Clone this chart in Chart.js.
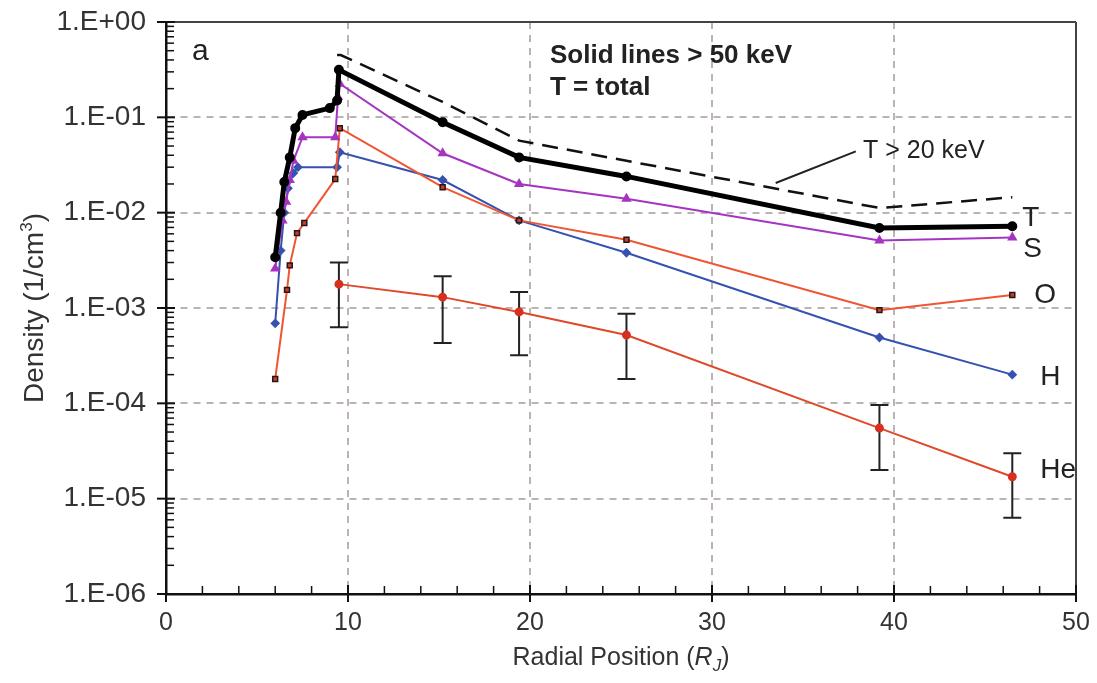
<!DOCTYPE html>
<html>
<head>
<meta charset="utf-8">
<script src="https://cdn.jsdelivr.net/npm/chart.js@4.4.1/dist/chart.umd.min.js"></script>
<style>
  body { margin: 0; background: #fff; }
  #wrap { width: 1097px; height: 683px; }
</style>
</head>
<body>
<div id="wrap"><canvas id="c" width="1097" height="683"></canvas></div>
<script>
// values (density in 1/cm3 vs radial position in RJ)
const xTotal = [6.0, 6.3, 6.5, 6.8, 7.1, 7.5, 9.0, 9.4, 9.5, 15.2, 19.4, 25.3, 39.2, 46.5];
const yTotal = [3.4e-3, 1.0e-2, 2.1e-2, 3.8e-2, 7.7e-2, 0.106, 0.125, 0.15, 0.315, 0.089, 0.038, 0.024, 6.9e-3, 7.2e-3];

const xTotal20 = [9.4, 9.6, 15.2, 19.4, 25.3, 39.2, 46.5];
const yTotal20 = [0.45, 0.45, 0.145, 0.057, 0.035, 0.0112, 0.0145];

const xS = [6.0, 6.4, 6.6, 6.8, 7.0, 7.5, 9.3, 9.45, 9.55, 15.2, 19.4, 25.3, 39.2, 46.5];
const yS = [2.6e-3, 8.3e-3, 1.3e-2, 2.2e-2, 3.5e-2, 0.062, 0.062, 0.163, 0.225, 0.042, 0.020, 0.014, 5.1e-3, 5.5e-3];

const xH = [6.0, 6.3, 6.5, 6.7, 7.0, 7.25, 9.4, 9.55, 15.2, 19.4, 25.3, 39.2, 46.5];
const yH = [6.9e-4, 4e-3, 1e-2, 1.8e-2, 2.6e-2, 0.030, 0.030, 0.043, 0.022, 8.3e-3, 3.8e-3, 4.9e-4, 2.0e-4];

const xO = [6.0, 6.65, 6.8, 7.2, 7.6, 9.3, 9.55, 15.2, 19.4, 25.3, 39.2, 46.5];
const yO = [1.8e-4, 1.55e-3, 2.8e-3, 6.1e-3, 7.8e-3, 0.0225, 0.077, 0.0185, 8.3e-3, 5.2e-3, 9.5e-4, 1.37e-3];

const xHe = [9.5, 15.2, 19.4, 25.3, 39.2, 46.5];
const yHe = [1.78e-3, 1.3e-3, 9.1e-4, 5.2e-4, 5.5e-5, 1.7e-5];
const yHeHigh = [3.0e-3, 2.15e-3, 1.47e-3, 8.7e-4, 9.6e-5, 3.0e-5];
const yHeLow = [6.3e-4, 4.3e-4, 3.2e-4, 1.8e-4, 2.0e-5, 6.3e-6];

const xTickVals = [0, 10, 20, 30, 40, 50];
const yTickVals = [1, 1e-1, 1e-2, 1e-3, 1e-4, 1e-5, 1e-6];
const yTickLabels = ["1.E+00", "1.E-01", "1.E-02", "1.E-03", "1.E-04", "1.E-05", "1.E-06"];

const pts = (xs, ys) => xs.map((x, i) => ({ x: x, y: ys[i] }));

const FONT = "'Liberation Sans', Arial, sans-serif";
const TEXT = "#333";

const overlay = {
  id: "overlay",
  beforeDatasetsDraw(chart) {
    // He error bars
    const ctx = chart.ctx, xs = chart.scales.x, ys = chart.scales.y;
    ctx.save();
    ctx.strokeStyle = "#222";
    ctx.lineWidth = 2;
    xHe.forEach((x, i) => {
      const px = xs.getPixelForValue(x);
      const top = ys.getPixelForValue(yHeHigh[i]);
      const bot = ys.getPixelForValue(yHeLow[i]);
      ctx.beginPath();
      ctx.moveTo(px, top); ctx.lineTo(px, bot);
      ctx.moveTo(px - 9, top); ctx.lineTo(px + 9, top);
      ctx.moveTo(px - 9, bot); ctx.lineTo(px + 9, bot);
      ctx.stroke();
    });
    ctx.restore();
  },
  afterDraw(chart) {
    const ctx = chart.ctx, xs = chart.scales.x, ys = chart.scales.y, a = chart.chartArea;
    const line = (x1, y1, x2, y2) => { ctx.beginPath(); ctx.moveTo(x1, y1); ctx.lineTo(x2, y2); ctx.stroke(); };
    ctx.save();

    // frame top + right
    ctx.strokeStyle = "#444";
    ctx.lineWidth = 2;
    line(a.left, a.top, a.right, a.top);
    line(a.right, a.top, a.right, a.bottom);

    // y ticks (minor inside, major across)
    ctx.strokeStyle = "#111";
    ctx.lineWidth = 1.5;
    for (let e = -6; e < 0; e++) {
      for (let k = 2; k <= 9; k++) {
        const py = ys.getPixelForValue(k * Math.pow(10, e));
        line(a.left, py, a.left + 8, py);
      }
    }
    ctx.lineWidth = 2;
    yTickVals.forEach(v => {
      const py = ys.getPixelForValue(v);
      line(a.left - 9, py, a.left + 9, py);
    });

    // x ticks
    ctx.lineWidth = 1.5;
    for (let v = 2; v < 50; v += 2) {
      if (v % 10 === 0) continue;
      const px = xs.getPixelForValue(v);
      line(px, a.bottom, px, a.bottom - 8);
    }
    ctx.lineWidth = 2;
    xTickVals.forEach(v => {
      const px = xs.getPixelForValue(v);
      line(px, a.bottom - 9, px, a.bottom + 8);
    });

    // axis titles
    ctx.fillStyle = TEXT;
    ctx.textBaseline = "alphabetic";
    ctx.save();
    ctx.translate(43, (a.top + a.bottom) / 2);
    ctx.rotate(-Math.PI / 2);
    ctx.font = "28px " + FONT;
    const t1 = "Density (1/cm", t2 = "3", t3 = ")";
    const w1 = ctx.measureText(t1).width, w3 = ctx.measureText(t3).width;
    ctx.font = "17px " + FONT;
    const w2 = ctx.measureText(t2).width;
    let sx = -(w1 + w2 + w3) / 2;
    ctx.font = "28px " + FONT;
    ctx.textAlign = "left";
    ctx.fillText(t1, sx, 0);
    ctx.font = "17px " + FONT;
    ctx.fillText(t2, sx + w1, -11);
    ctx.font = "28px " + FONT;
    ctx.fillText(t3, sx + w1 + w2, 0);
    ctx.restore();

    const parts = [
      ["Radial Position (", "25px " + FONT, 0],
      ["R", "italic 25px " + FONT, 0],
      ["J", "italic 17px " + FONT, 6],
      [")", "25px " + FONT, 0]
    ];
    let tw = 0;
    parts.forEach(p => { ctx.font = p[1]; tw += ctx.measureText(p[0]).width; });
    let cx = (a.left + a.right) / 2 - tw / 2;
    ctx.textAlign = "left";
    parts.forEach(p => {
      ctx.font = p[1];
      ctx.fillText(p[0], cx, 665 + p[2]);
      cx += ctx.measureText(p[0]).width;
    });

    // panel letter and notes
    ctx.fillStyle = "#222";
    ctx.font = "30px " + FONT;
    ctx.fillText("a", a.left + 26, a.top + 38);
    ctx.font = "bold 26px " + FONT;
    ctx.fillText("Solid lines > 50 keV", 550, 63);
    ctx.fillText("T = total", 550, 95);

    // T > 20 keV callout
    ctx.strokeStyle = "#222";
    ctx.lineWidth = 2;
    line(xs.getPixelForValue(33.5), ys.getPixelForValue(0.0205), xs.getPixelForValue(37.9), ys.getPixelForValue(0.044));
    ctx.font = "25px " + FONT;
    ctx.fillText("T > 20 keV", xs.getPixelForValue(38.3), ys.getPixelForValue(0.046) + 9);

    // series labels at the right end
    ctx.font = "28px " + FONT;
    ctx.textBaseline = "middle";
    const endLab = (txt, xsArr, ysArr, dx, dy) => {
      const n = xsArr.length - 1;
      ctx.fillText(txt, xs.getPixelForValue(xsArr[n]) + dx, ys.getPixelForValue(ysArr[n]) + dy);
    };
    endLab("T", xTotal, yTotal, 10, -8);
    endLab("S", xS, yS, 11, 12);
    endLab("O", xO, yO, 22, 0);
    endLab("H", xH, yH, 28, 3);
    endLab("He", xHe, yHe, 28, -6);

    ctx.restore();
  }
};

new Chart(document.getElementById("c"), {
  type: "scatter",
  data: {
    datasets: [
      {
        label: "T",
        data: pts(xTotal, yTotal),
        showLine: true,
        borderColor: "#000",
        borderWidth: 5,
        pointRadius: 2.5,
        pointBackgroundColor: "#000",
        pointBorderColor: "#000"
      },
      {
        label: "T > 20 keV",
        data: pts(xTotal20, yTotal20),
        showLine: true,
        borderColor: "#111",
        borderWidth: 2.5,
        borderDash: [16, 9],
        pointRadius: 0
      },
      {
        label: "S",
        data: pts(xS, yS),
        showLine: true,
        borderColor: "#a535c0",
        borderWidth: 2,
        pointRadius: 4,
        pointStyle: "triangle",
        pointBackgroundColor: "#a535c0",
        pointBorderColor: "#a535c0"
      },
      {
        label: "O",
        data: pts(xO, yO),
        showLine: true,
        borderColor: "#f05532",
        borderWidth: 2,
        pointRadius: 3.5,
        pointStyle: "rect",
        pointBackgroundColor: "#c04030",
        pointBorderColor: "#2a1515",
        pointBorderWidth: 1.5
      },
      {
        label: "H",
        data: pts(xH, yH),
        showLine: true,
        borderColor: "#3552b0",
        borderWidth: 2,
        pointRadius: 3.5,
        pointStyle: "rectRot",
        pointBackgroundColor: "#3552b0",
        pointBorderColor: "#3552b0"
      },
      {
        label: "He",
        data: pts(xHe, yHe),
        showLine: true,
        borderColor: "#e0482a",
        borderWidth: 2,
        pointRadius: 3.5,
        pointBackgroundColor: "#d83020",
        pointBorderColor: "#d83020"
      }
    ]
  },
  options: {
    responsive: false,
    animation: false,
    layout: { padding: { top: 22, right: 21, left: 0, bottom: 0 } },
    plugins: { legend: { display: false }, tooltip: { enabled: false } },
    scales: {
      x: {
        type: "linear",
        min: 0,
        max: 50,
        afterBuildTicks: s => { s.ticks = xTickVals.map(v => ({ value: v })); },
        afterFit: s => { s.height = 89; s.paddingLeft = 0; s.paddingRight = 0; },
        ticks: { color: TEXT, font: { family: FONT, size: 25 }, padding: 14, autoSkip: false, maxRotation: 0 },
        grid: {
          drawTicks: false,
          lineWidth: 2,
          color: c => (c.tick && c.tick.value > 0 && c.tick.value < 50) ? "#bcb4b4" : "rgba(0,0,0,0)"
        },
        border: { color: "#111", width: 2.5, dash: [7, 6] }
      },
      y: {
        type: "logarithmic",
        min: 1e-6,
        max: 1,
        afterBuildTicks: s => { s.ticks = yTickVals.map(v => ({ value: v })); },
        afterFit: s => { s.width = 166; s.paddingTop = 0; s.paddingBottom = 0; },
        ticks: {
          color: TEXT,
          font: { family: FONT, size: 28 },
          padding: 20,
          autoSkip: false,
          callback: (v, i) => yTickLabels[i]
        },
        grid: {
          drawTicks: false,
          lineWidth: 2,
          color: c => (c.tick && c.tick.value > 1e-6 && c.tick.value < 1) ? "#bcb4b4" : "rgba(0,0,0,0)"
        },
        border: { color: "#111", width: 2.5, dash: [7, 6] }
      }
    }
  },
  plugins: [overlay]
});
</script>
</body>
</html>
